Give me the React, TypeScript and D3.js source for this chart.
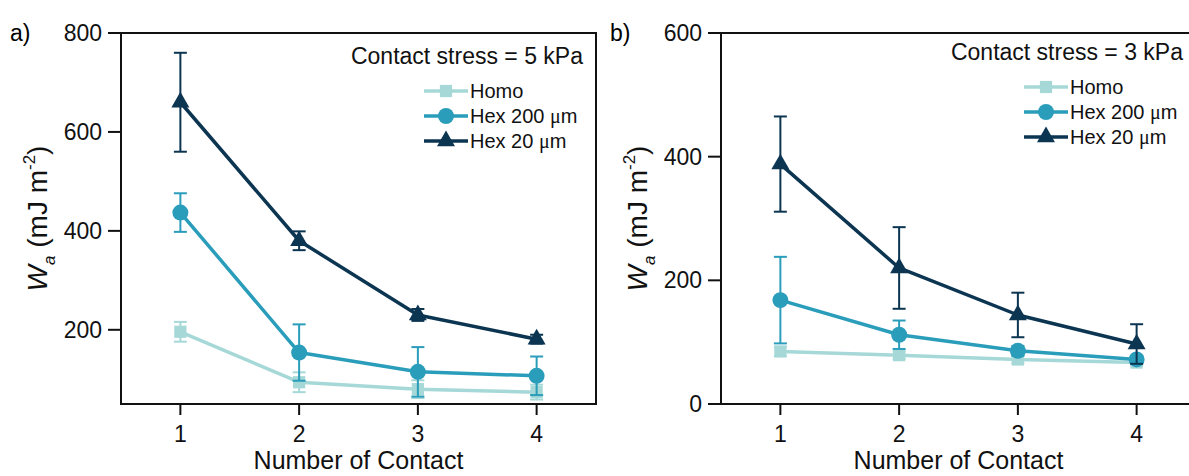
import React from "react";
import * as d3 from "d3";

const contacts = [1, 2, 3, 4];
const seriesNames = ["Homo", "Hex 200 μm", "Hex 20 μm"];
const seriesColors = ["#a6d8d8", "#2a9dbb", "#0c3552"];
const seriesSymbols = [d3.symbolSquare, d3.symbolCircle, d3.symbolTriangle];
const symbolSizes = [150, 200, 140];

// Panel a: contact stress = 5 kPa
const homoA = [196, 94, 80, 74];
const homoAErr = [20, 20, 18, 15];
const hex200A = [437, 154, 115, 107];
const hex200AErr = [39, 57, 50, 39];
const hex20A = [660, 380, 230, 181];
const hex20AErr = [100, 19, 12, 9];
const yTicksA = [200, 400, 600, 800];

// Panel b: contact stress = 3 kPa
const homoB = [85, 79, 72, 67];
const homoBErr = [7, 6, 6, 5];
const hex200B = [168, 112, 86, 72];
const hex200BErr = [70, 23, 8, 6];
const hex20B = [388, 220, 144, 97];
const hex20BErr = [77, 66, 36, 32];
const yTicksB = [0, 200, 400, 600];

const FONT = "'Liberation Sans', Arial, Helvetica, sans-serif";

type PanelProps = {
  ox: number;
  label: string;
  stress: string;
  yDomain: [number, number];
  yTicks: number[];
  values: number[][];
  errors: number[][];
  annoY: number;
  legendY: number;
};

function Panel({ ox, label, stress, yDomain, yTicks, values, errors, annoY, legendY }: PanelProps) {
  const left = 121 + ox;
  const right = 596 + ox;
  const top = 33;
  const bottom = 404;
  const x = d3.scaleLinear().domain([0.5, 4.5]).range([left, right]);
  const y = d3.scaleLinear().domain(yDomain).range([bottom, top]);
  const line = d3
    .line<number>()
    .x((_, i) => x(contacts[i]))
    .y((d) => y(d));
  const capW = 6.5;
  return (
    <g>
      <text x={ox + 10} y={41} fontSize={23} fontFamily={FONT}>
        {label}
      </text>
      {values.map((vals, si) => (
        <g key={si}>
          <path d={line(vals) || ""} fill="none" stroke={seriesColors[si]} strokeWidth={3.5} strokeLinejoin="round" />
          {vals.map((v, i) => {
            const e = errors[si][i];
            const cx = x(contacts[i]);
            return (
              <g key={i} stroke={seriesColors[si]} strokeWidth={2}>
                <line x1={cx} x2={cx} y1={y(v + e)} y2={y(v - e)} />
                <line x1={cx - capW} x2={cx + capW} y1={y(v + e)} y2={y(v + e)} />
                <line x1={cx - capW} x2={cx + capW} y1={y(v - e)} y2={y(v - e)} />
              </g>
            );
          })}
          {vals.map((v, i) => (
            <path
              key={"m" + i}
              d={d3.symbol(seriesSymbols[si], symbolSizes[si])() || ""}
              transform={`translate(${x(contacts[i])},${y(v)})`}
              fill={seriesColors[si]}
            />
          ))}
        </g>
      ))}
      <rect x={left} y={top} width={right - left} height={bottom - top} fill="none" stroke="#111" strokeWidth={2} />
      {yTicks.map((t) => (
        <g key={t}>
          <line x1={left - 13} x2={left} y1={y(t)} y2={y(t)} stroke="#111" strokeWidth={2} />
          <text
            x={left - 19}
            y={y(t)}
            textAnchor="end"
            dominantBaseline="central"
            fontSize={23}
            fontFamily={FONT}
            fill="#111"
          >
            {t}
          </text>
        </g>
      ))}
      {contacts.map((c) => (
        <g key={c}>
          <line x1={x(c)} x2={x(c)} y1={bottom} y2={bottom + 11} stroke="#111" strokeWidth={2} />
          <text x={x(c)} y={442} textAnchor="middle" fontSize={23} fontFamily={FONT} fill="#111">
            {c}
          </text>
        </g>
      ))}
      <text x={(left + right) / 2} y={469} textAnchor="middle" fontSize={25} fontFamily={FONT} fill="#111">
        Number of Contact
      </text>
      <text
        transform={`translate(${ox + 47},${(top + bottom) / 2}) rotate(-90)`}
        textAnchor="middle"
        fontSize={28}
        fontFamily={FONT}
        fill="#111"
      >
        <tspan fontStyle="italic">W</tspan>
        <tspan fontStyle="italic" fontSize={17} dy={8}>
          a
        </tspan>
        <tspan dy={-8}> (mJ m</tspan>
        <tspan fontSize={17} dy={-12}>
          -2
        </tspan>
        <tspan dy={12}>)</tspan>
      </text>
      <text x={right - 13} y={annoY} textAnchor="end" dominantBaseline="central" fontSize={23} fontFamily={FONT} fill="#111">
        {stress}
      </text>
      {seriesNames.map((name, si) => {
        const ly = legendY + si * 25;
        const lx1 = right - 172;
        const lx2 = right - 128;
        const parts = name.split("μ");
        return (
          <g key={name}>
            <line x1={lx1} x2={lx2} y1={ly} y2={ly} stroke={seriesColors[si]} strokeWidth={3.5} />
            <path
              d={d3.symbol(seriesSymbols[si], symbolSizes[si])() || ""}
              transform={`translate(${(lx1 + lx2) / 2},${ly})`}
              fill={seriesColors[si]}
            />
            <text x={lx2 + 2} y={ly} dominantBaseline="central" fontSize={20} fontFamily={FONT} fill="#111">
              {parts[0]}
              {parts.length > 1 ? (
                <>
                  <tspan fontFamily="'Liberation Serif', 'Times New Roman', serif">μ</tspan>
                  {parts[1]}
                </>
              ) : null}
            </text>
          </g>
        );
      })}
    </g>
  );
}

export default function App() {
  return (
    <svg
      width={1189}
      height={476}
      style={{ position: "absolute", left: 0, top: 0, background: "#fff" }}
    >
      <rect x={0} y={0} width={1189} height={476} fill="#fff" />
      <Panel
        ox={0}
        label="a)"
        stress="Contact stress = 5 kPa"
        yDomain={[50, 800]}
        yTicks={yTicksA}
        values={[homoA, hex200A, hex20A]}
        errors={[homoAErr, hex200AErr, hex20AErr]}
        annoY={56}
        legendY={91}
      />
      <Panel
        ox={600}
        label="b)"
        stress="Contact stress = 3 kPa"
        yDomain={[0, 600]}
        yTicks={yTicksB}
        values={[homoB, hex200B, hex20B]}
        errors={[homoBErr, hex200BErr, hex20BErr]}
        annoY={52}
        legendY={87}
      />
    </svg>
  );
}
